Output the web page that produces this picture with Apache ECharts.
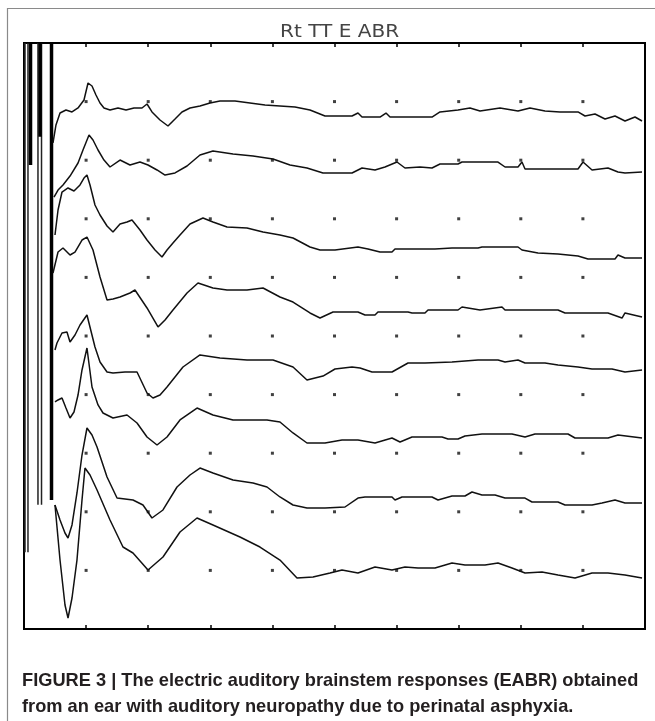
<!DOCTYPE html>
<html>
<head>
<meta charset="utf-8">
<script src="https://cdn.jsdelivr.net/npm/echarts@6/dist/echarts.min.js"></script>
<style>
html,body{margin:0;padding:0;background:#fff;}
#chart{width:655px;height:721px;}
</style>
</head>
<body>
<div id="chart"></div>
<script>
// Time axis: ms (10 divisions), amplitude axis: divisions (trace stack)
var timeTicks = [0,1,2,3,4,5,6,7,8,9,10];
var levelTicks = [0,1,2,3,4,5,6,7,8,9,10];
var dotTimes = [1,2,3,4,5,6,7,8,9];
var dotLevels = [1,2,3,4,5,6,7,8,9];

// stimulus artifact: vertical excursions running off the top of the screen
var artifactThinTimes = [0.016, 0.064, 0.225, 0.282];
var artifactThinEnds  = [1.31, 1.31, 2.12, 2.12];
var artifactThickTimes = [0.105, 0.258, 0.443];
var artifactThickEnds  = [7.92, 8.40, 2.20];

var trace1 = [[0.467,8.294],[0.515,8.601],[0.580,8.805],[0.676,8.857],[0.773,8.823],[0.870,8.891],[0.966,9.027],[1.031,9.317],[1.095,9.266],[1.159,9.113],[1.224,8.976],[1.288,8.891],[1.385,8.857],[1.514,8.891],[1.643,8.857],[1.771,8.891],[1.900,8.891],[1.981,8.959],[2.061,8.823],[2.190,8.686],[2.319,8.584],[2.432,8.703],[2.544,8.823],[2.673,8.891],[2.834,8.925],[2.995,8.976],[3.156,9.010],[3.398,9.010],[3.639,8.976],[3.881,8.942],[4.122,8.925],[4.364,8.908],[4.605,8.857],[4.847,8.754],[5.089,8.754],[5.282,8.754],[5.378,8.805],[5.443,8.737],[5.733,8.737],[5.829,8.805],[5.894,8.737],[6.570,8.737],[6.699,8.823],[6.989,8.857],[7.182,8.891],[7.343,8.840],[7.665,8.891],[7.955,8.840],[8.148,8.891],[8.390,8.840],[8.631,8.823],[8.921,8.823],[9.034,8.754],[9.195,8.788],[9.356,8.703],[9.517,8.754],[9.678,8.669],[9.839,8.737],[9.952,8.669]];
var trace2 = [[0.483,7.372],[0.548,7.491],[0.628,7.577],[0.741,7.730],[0.870,7.952],[0.950,8.174],[1.047,8.430],[1.111,8.345],[1.192,8.174],[1.288,8.003],[1.385,7.884],[1.546,8.003],[1.707,7.918],[1.868,7.969],[1.997,7.918],[2.142,7.833],[2.271,7.747],[2.432,7.782],[2.625,7.901],[2.834,8.089],[3.043,8.157],[3.366,8.106],[3.688,8.072],[4.010,8.020],[4.283,7.918],[4.557,7.867],[4.815,7.782],[5.089,7.782],[5.282,7.782],[5.443,7.867],[5.652,7.833],[5.813,7.884],[6.006,7.969],[6.135,7.867],[6.377,7.884],[6.570,7.867],[6.699,7.935],[6.989,7.935],[7.053,7.969],[7.375,7.969],[7.633,7.969],[7.746,7.884],[7.955,7.884],[8.019,7.969],[8.068,7.850],[8.470,7.850],[8.921,7.850],[9.002,7.969],[9.147,7.833],[9.404,7.867],[9.565,7.799],[9.678,7.782],[9.952,7.799]];
var trace3 = [[0.499,6.724],[0.548,7.150],[0.612,7.457],[0.709,7.526],[0.805,7.474],[0.902,7.577],[0.966,7.696],[1.014,7.747],[1.063,7.577],[1.143,7.235],[1.224,7.065],[1.337,6.877],[1.433,6.775],[1.546,6.911],[1.659,6.945],[1.739,6.980],[1.868,6.809],[1.981,6.638],[2.110,6.468],[2.222,6.348],[2.303,6.468],[2.399,6.587],[2.512,6.724],[2.673,6.911],[2.882,7.014],[3.043,6.945],[3.269,6.860],[3.591,6.843],[3.849,6.775],[4.122,6.724],[4.332,6.672],[4.605,6.519],[4.767,6.468],[5.008,6.468],[5.378,6.519],[5.539,6.485],[5.733,6.433],[5.926,6.433],[5.974,6.485],[6.618,6.485],[6.892,6.502],[7.311,6.502],[7.375,6.519],[7.955,6.519],[8.019,6.468],[8.277,6.416],[8.599,6.399],[8.921,6.365],[9.082,6.314],[9.517,6.314],[9.565,6.382],[9.678,6.331],[9.952,6.331]];
var trace4 = [[0.467,6.075],[0.548,6.433],[0.628,6.502],[0.741,6.382],[0.821,6.433],[0.934,6.638],[1.014,6.689],[1.111,6.468],[1.224,6.007],[1.337,5.614],[1.433,5.631],[1.546,5.666],[1.707,5.734],[1.787,5.785],[1.981,5.478],[2.158,5.154],[2.271,5.273],[2.399,5.444],[2.625,5.734],[2.802,5.904],[3.043,5.819],[3.269,5.785],[3.591,5.785],[3.849,5.819],[4.122,5.666],[4.332,5.580],[4.605,5.393],[4.767,5.307],[4.976,5.410],[5.378,5.410],[5.491,5.358],[5.652,5.358],[5.700,5.410],[6.184,5.410],[6.248,5.393],[6.457,5.393],[6.506,5.444],[6.989,5.444],[7.053,5.495],[7.343,5.444],[7.697,5.495],[7.746,5.444],[8.599,5.444],[8.712,5.393],[9.404,5.393],[9.630,5.307],[9.678,5.393],[9.952,5.324]];
var trace5 = [[0.499,4.761],[0.531,4.881],[0.612,5.051],[0.692,5.068],[0.741,4.898],[0.821,5.017],[0.902,5.188],[1.014,5.358],[1.143,4.812],[1.224,4.556],[1.337,4.386],[1.433,4.369],[1.626,4.386],[1.820,4.386],[1.981,4.027],[2.077,3.942],[2.190,3.993],[2.303,4.130],[2.560,4.471],[2.834,4.676],[3.156,4.625],[3.591,4.590],[4.010,4.590],[4.332,4.471],[4.557,4.249],[4.815,4.317],[5.008,4.437],[5.282,4.471],[5.411,4.454],[5.604,4.386],[5.926,4.386],[6.184,4.539],[6.457,4.539],[6.892,4.556],[7.311,4.590],[7.633,4.590],[7.746,4.556],[7.955,4.590],[8.068,4.539],[8.390,4.539],[8.599,4.505],[8.921,4.471],[9.147,4.437],[9.469,4.437],[9.678,4.386],[9.952,4.420]];
var trace6 = [[0.499,3.874],[0.548,3.908],[0.612,3.942],[0.676,3.771],[0.741,3.601],[0.805,3.703],[0.870,3.993],[0.934,4.420],[1.014,4.795],[1.095,4.130],[1.192,3.823],[1.272,3.686],[1.433,3.601],[1.659,3.652],[1.820,3.515],[1.981,3.276],[2.142,3.140],[2.303,3.276],[2.512,3.567],[2.786,3.771],[3.043,3.652],[3.366,3.567],[3.913,3.567],[4.122,3.532],[4.332,3.345],[4.557,3.174],[4.847,3.174],[5.121,3.225],[5.378,3.225],[5.652,3.174],[5.926,3.259],[6.055,3.191],[6.248,3.276],[6.731,3.276],[6.828,3.242],[6.989,3.242],[7.101,3.294],[7.375,3.328],[7.858,3.328],[8.068,3.276],[8.229,3.328],[8.760,3.328],[8.873,3.259],[9.147,3.259],[9.404,3.259],[9.565,3.311],[9.952,3.259]];
var trace7 = [[0.499,2.116],[0.580,1.860],[0.660,1.638],[0.709,1.553],[0.773,1.775],[0.853,2.321],[0.934,2.969],[1.014,3.430],[1.095,3.311],[1.176,3.106],[1.337,2.594],[1.498,2.235],[1.755,2.201],[1.916,2.116],[2.061,1.894],[2.238,2.031],[2.464,2.423],[2.673,2.628],[2.834,2.747],[3.043,2.662],[3.366,2.543],[3.688,2.491],[3.913,2.423],[4.122,2.253],[4.332,2.116],[4.557,2.065],[4.847,2.065],[5.169,2.082],[5.378,2.235],[5.491,2.253],[5.926,2.253],[5.974,2.201],[6.087,2.253],[6.570,2.253],[6.667,2.201],[6.892,2.270],[7.101,2.270],[7.214,2.338],[7.375,2.287],[7.585,2.287],[7.746,2.235],[8.068,2.235],[8.180,2.167],[8.599,2.167],[8.712,2.116],[9.147,2.116],[9.308,2.150],[9.517,2.201],[9.678,2.150],[9.952,2.150]];
var trace8 = [[0.499,2.116],[0.580,1.177],[0.660,0.410],[0.709,0.188],[0.773,0.529],[0.853,1.177],[0.934,2.201],[0.982,2.747],[1.063,2.628],[1.176,2.372],[1.385,1.860],[1.594,1.399],[1.755,1.297],[1.997,1.007],[2.238,1.229],[2.512,1.655],[2.786,1.894],[3.043,1.775],[3.478,1.570],[3.800,1.399],[4.122,1.177],[4.396,0.870],[4.654,0.887],[4.928,0.956],[5.121,1.007],[5.378,0.956],[5.652,1.058],[5.926,1.007],[6.135,1.058],[6.345,1.041],[6.618,1.041],[6.892,1.126],[7.101,1.092],[7.424,1.092],[7.633,1.126],[7.858,1.041],[8.068,0.956],[8.341,0.973],[8.599,0.922],[8.873,0.870],[9.147,0.956],[9.404,0.956],[9.678,0.922],[9.952,0.870]];

var traces = [trace1, trace2, trace3, trace4, trace5, trace6, trace7, trace8];
var titleText = 'Rt TT E ABR';
var captionLine1 = 'FIGURE 3 | The electric auditory brainstem responses (EABR) obtained';
var captionLine2 = 'from an ear with auditory neuropathy due to perinatal asphyxia.';

function segments(times, ends, top) {
  var out = [];
  for (var i = 0; i < times.length; i++) {
    out.push([times[i], top]); out.push([times[i], ends[i]]); out.push(null);
  }
  return out;
}
var dots = [];
dotTimes.forEach(function (t) { dotLevels.forEach(function (l) { dots.push([t, l]); }); });

var topLevel = levelTicks[levelTicks.length - 1];
var series = [];
traces.forEach(function (tr, i) {
  series.push({ type: 'line', name: 'trace' + (i + 1), data: tr, showSymbol: false, symbol: 'none',
    lineStyle: { color: '#111', width: 1.5 }, silent: true, animation: false, z: 3 });
});
series.push({ type: 'line', name: 'artifact thin', data: segments(artifactThinTimes, artifactThinEnds, topLevel), connectNulls: false,
  symbol: 'none', lineStyle: { color: '#222', width: 1.5 }, animation: false, z: 2 });
series.push({ type: 'line', name: 'artifact thick', data: segments(artifactThickTimes, artifactThickEnds, topLevel), connectNulls: false,
  symbol: 'none', lineStyle: { color: '#000', width: 3.5 }, animation: false, z: 2 });
series.push({ type: 'scatter', name: 'grid dots', data: dots, symbol: 'rect', symbolSize: 3,
  itemStyle: { color: '#111' }, animation: false, z: 1 });

var capFont = 'bold 19px "Liberation Sans", Arial, sans-serif';
var chart = echarts.init(document.getElementById('chart'), null, { renderer: 'canvas' });
chart.setOption({
  backgroundColor: '#fff',
  animation: false,
  grid: { left: 24, top: 43, width: 621, height: 586, show: true, borderColor: '#000', borderWidth: 2, backgroundColor: 'transparent' },
  xAxis: [
    { type: 'value', min: timeTicks[0], max: timeTicks[timeTicks.length - 1], interval: 1, position: 'bottom',
      axisLine: { show: false }, axisTick: { show: true, inside: true, length: 4, lineStyle: { color: '#000', width: 1.5 } },
      axisLabel: { show: false }, splitLine: { show: false } },
    { type: 'value', min: timeTicks[0], max: timeTicks[timeTicks.length - 1], interval: 1, position: 'top',
      axisLine: { show: false }, axisTick: { show: true, inside: true, length: 4, lineStyle: { color: '#000', width: 1.5 } },
      axisLabel: { show: false }, splitLine: { show: false } }
  ],
  yAxis: { type: 'value', min: levelTicks[0], max: topLevel, interval: 1,
    axisLine: { show: false }, axisTick: { show: false }, axisLabel: { show: false }, splitLine: { show: false } },
  graphic: [
    { type: 'rect', shape: { x: 7.5, y: 8.5, width: 700, height: 800 }, style: { fill: 'none', stroke: '#8a8a8a', lineWidth: 1.2 }, silent: true, z: -1 },
    { type: 'text', x: 280, y: 24, scaleX: 1.18, style: { text: titleText, font: '17px "DejaVu Sans", sans-serif', fill: '#444', verticalAlign: 'top', align: 'left' } },
    { type: 'text', x: 22, y: 671, scaleX: 0.96, style: { text: captionLine1, font: capFont, fill: '#231f20', verticalAlign: 'top', align: 'left' } },
    { type: 'text', x: 22, y: 697, scaleX: 0.96, style: { text: captionLine2, font: capFont, fill: '#231f20', verticalAlign: 'top', align: 'left' } }
  ],
  series: series
});
</script>
</body>
</html>
